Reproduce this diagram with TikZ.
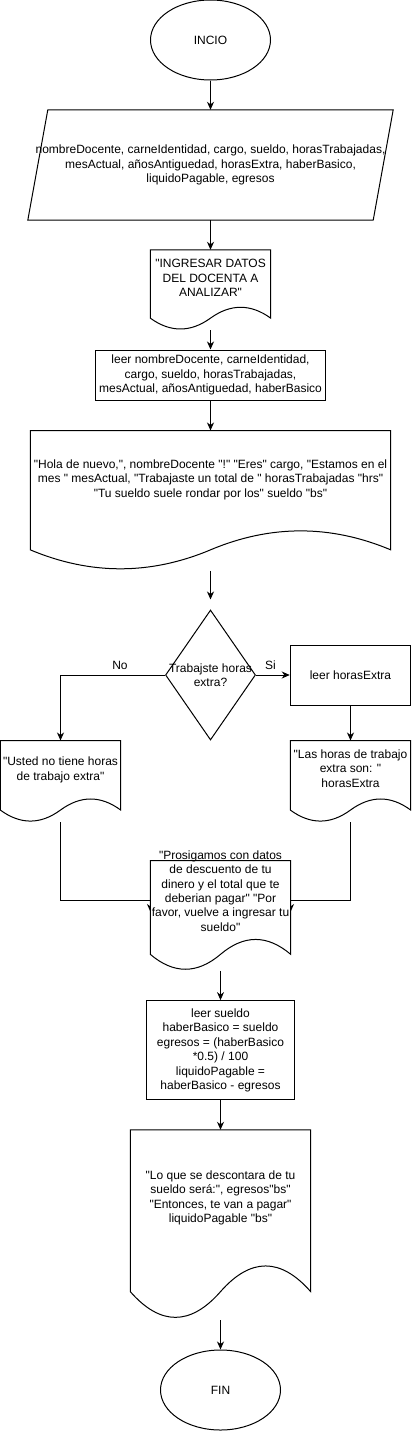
\documentclass[tikz,border=0pt]{standalone}
\usepackage{fontspec}
\setmainfont{Liberation Sans}[Ligatures=TeXOff]
\usetikzlibrary{arrows.meta,shapes.geometric,calc}
\newcommand{\docoutline}[1]{%
  \path[shapeline,fill=white] let \p1=(#1.north west), \p2=(#1.south east) in
   (\x1,\y1) -- (\x2,\y1) -- (\x2,{\y1-0.85*(\y1-\y2)})
   .. controls ({\x1+5/6*(\x2-\x1)},{\y1-0.67*(\y1-\y2)}) and ({\x1+2/3*(\x2-\x1)},{\y1-0.67*(\y1-\y2)}) .. ({\x1+0.5*(\x2-\x1)},{\y1-0.85*(\y1-\y2)})
   .. controls ({\x1+1/3*(\x2-\x1)},{\y1-1.03*(\y1-\y2)}) and ({\x1+1/6*(\x2-\x1)},{\y1-1.03*(\y1-\y2)}) .. (\x1,{\y1-0.85*(\y1-\y2)}) -- cycle;}
\begin{document}
\begin{tikzpicture}[x=1pt,y=-1pt,
  font=\fontsize{12}{14.4}\selectfont,
  shapeline/.style={draw=black,line width=1pt},
  arr/.style={draw=black,line width=1pt,-{Stealth[length=8pt,width=7pt,inset=2.5pt]}},
  term/.style={shapeline,ellipse,minimum width=120pt,minimum height=80pt,inner sep=0pt,fill=white},
  proc/.style={shapeline,rectangle,inner sep=0pt,align=center,fill=white},
  box/.style={draw=none,rectangle,inner sep=0pt,align=center},
  txt/.style={inner sep=0pt,align=center},
  decision/.style={shapeline,diamond,inner sep=0pt,minimum width=90pt,minimum height=130pt,fill=white},
]
\useasboundingbox (0,0) rectangle (412,1432);

% shapes
\node[term] (start) at (210.5,40) {INCIO};
\node[box,minimum width=365pt,minimum height=110pt] (para) at (210.5,165)
  {nombreDocente, carneIdentidad, cargo, sueldo, horasTrabajadas,\\
   mesActual, añosAntiguedad, horasExtra, haberBasico,\\
   liquidoPagable, egresos};
\draw[shapeline] ([xshift=20pt]para.north west) -- (para.north east)
  -- ([xshift=-20pt]para.south east) -- (para.south west) -- cycle;
\node[box,minimum width=120pt,minimum height=80pt] (ing) at (210.5,290) {};
\node[proc,minimum width=230pt,minimum height=50pt] (leer1) at (210.5,375)
  {leer nombreDocente, carneIdentidad,\\ cargo, sueldo, horasTrabajadas,\\ mesActual, añosAntiguedad, haberBasico};
\node[box,minimum width=360pt,minimum height=140pt] (big) at (210.5,500.7) {};
\node[decision] (dia) at (210.5,675) {};
\node[proc,minimum width=120.5pt,minimum height=60pt] (hx) at (350.5,675) {leer horasExtra};
\node[box,minimum width=120pt,minimum height=81.4pt] (usted) at (60.5,781.4) {};
\node[box,minimum width=120pt,minimum height=81.4pt] (lh) at (350.5,781.4) {};
\node[box,minimum width=140pt,minimum height=110pt] (pros) at (220.5,915.7) {};
\node[proc,minimum width=147.6pt,minimum height=99.3pt] (leer2) at (220.5,1050.3)
  {leer sueldo\\ haberBasico = sueldo\\ egresos = (haberBasico\\ *0.5) / 100\\ liquidoPagable =\\ haberBasico - egresos};
\node[box,minimum width=180pt,minimum height=190pt] (lo) at (220.5,1225) {};
\node[term] (fin) at (220.5,1390) {FIN};

\coordinate (jl) at (150.5,900);
\coordinate (jlend) at (150.5,912);
\coordinate (jr) at (290.5,900);
\coordinate (jrend) at (290.5,912);

% connectors
\draw[arr] (start.south) -- (para.north);
\draw[arr] (para.south) -- (ing.north);
\draw[arr] (ing.south) -- (leer1.north);
\draw[arr] (leer1.south) -- (big.north);
\draw[arr,shorten >=10pt] (big.south) -- (dia.north);
\draw[arr] (dia.west) -| (usted.north);
\draw[arr] (dia.east) -- (hx.west);
\draw[arr] (hx.south) -- (lh.north);
\draw[arr] (usted.south) |- (jl) -- (jlend);
\draw[arr] (lh.south) |- (jr) -- (jrend);
\draw[arr] (pros.south) -- (leer2.north);
\draw[arr] (leer2.south) -- (lo.north);
\draw[arr] (lo.south) -- (fin.north);

% document outlines
\docoutline{ing}
\docoutline{big}
\docoutline{usted}
\docoutline{lh}
\docoutline{pros}
\docoutline{lo}

% texts
\node[txt] (t-ing) at (210.5,278) {"INGRESAR DATOS\\ DEL DOCENTA A\\ ANALIZAR"};
\node[txt] (t-big) at (210.5,479.5) {"Hola de nuevo,", nombreDocente "!" "Eres" cargo, "Estamos en el\\ mes " mesActual, "Trabajaste un total de " horasTrabajadas "hrs"\\ "Tu sueldo suele rondar por los" sueldo "bs"};
\node[txt] (t-dia) at (210.5,675.5) {Trabajste horas\\ extra?};
\node[txt] (t-us) at (60.5,770) {"Usted no tiene horas\\ de trabajo extra"};
\node[txt] (t-lh) at (350.5,768.7) {"Las horas de trabajo\\ extra son: "\\ horasExtra};
\node[txt] (t-pros) at (220.5,891) {"Prosigamos con datos\\ de descuento de tu\\ dinero y el total que te\\ deberian pagar" "Por\\ favor, vuelve a ingresar tu\\ sueldo"};
\node[txt] (t-lo) at (220.5,1198) {"Lo que se descontara de tu\\ sueldo será:", egresos"bs"\\ "Entonces, te van a pagar"\\ liquidoPagable "bs"};
\node[txt] (lno) at (120,665) {No};
\node[txt] (lsi) at (270.5,665) {Si};
\end{tikzpicture}
\end{document}
